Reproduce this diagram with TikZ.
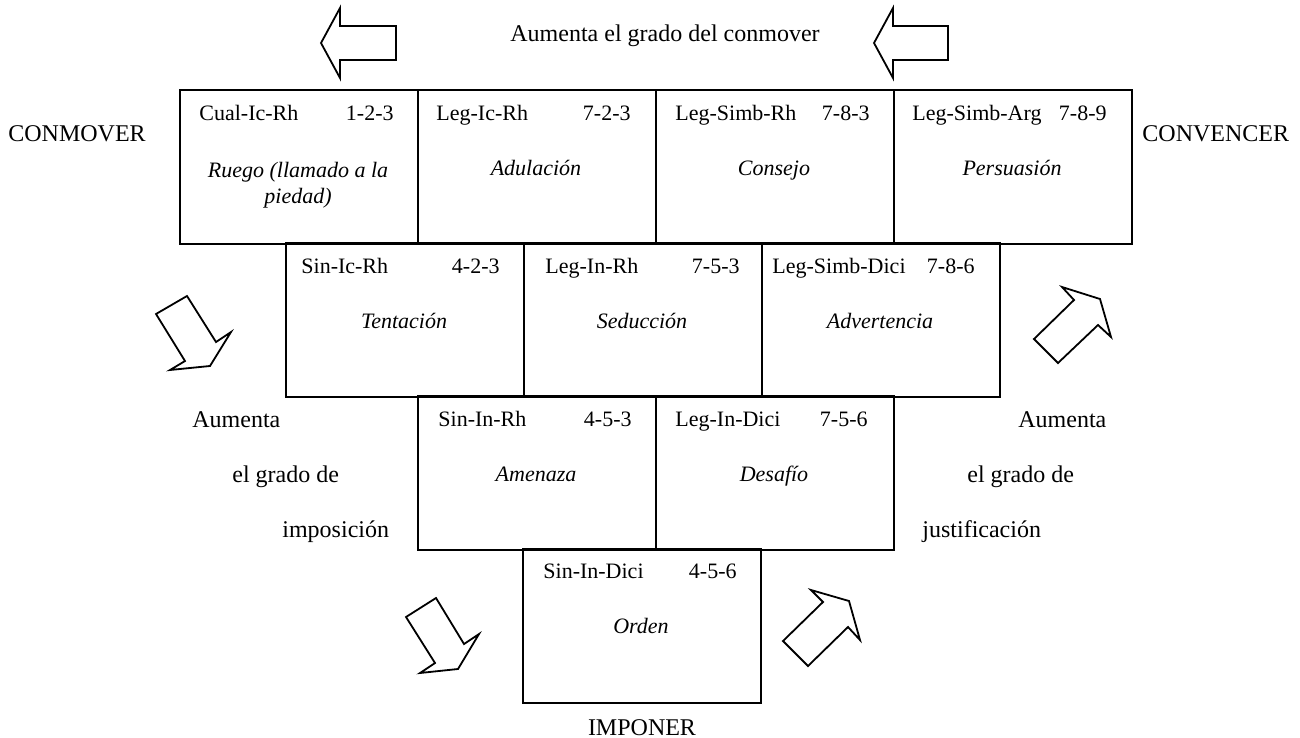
\documentclass[tikz,border=0pt]{standalone}
\usepackage{fontspec}
\setmainfont{Liberation Serif}
\begin{document}
\begin{tikzpicture}[x=0.5pt,y=-0.5pt,
  box/.style={draw, line width=1pt, minimum width=119pt, minimum height=77pt, inner sep=0pt, anchor=north west},
  lbl/.style={anchor=base west, inner sep=0pt, font=\fontsize{11}{13}\selectfont},
  num/.style={anchor=base east, inner sep=0pt, font=\fontsize{11}{13}\selectfont},
  nm/.style={anchor=base, inner sep=0pt, font=\fontsize{11}{13}\selectfont\itshape},
  outer/.style={anchor=base west, inner sep=0pt, font=\fontsize{12}{14}\selectfont},
  outerc/.style={anchor=base, inner sep=0pt, font=\fontsize{12}{14}\selectfont},
  blk/.style={draw, line width=0.9pt, line join=miter, fill=white}]
\useasboundingbox (0,0) rectangle (1300,738);

% boxes
\node[box] (b1) at (179,89) {};
\node[box] (b2) at (417,89) {};
\node[box] (b3) at (655,89) {};
\node[box] (b4) at (893,89) {};
\node[box] (b5) at (285,242) {};
\node[box] (b6) at (523,242) {};
\node[box] (b7) at (761,242) {};
\node[box] (b8) at (417,395) {};
\node[box] (b9) at (655,395) {};
\node[box] (b10) at (522,548) {};

% labels
\node[lbl] (l1) at (199,120) {Cual-Ic-Rh};
\node[num] (c1) at (394,120) {1-2-3};
\node[lbl] (l2) at (436,120) {Leg-Ic-Rh};
\node[num] (c2) at (631,120) {7-2-3};
\node[lbl] (l3) at (675,120) {Leg-Simb-Rh};
\node[num] (c3) at (870,120) {7-8-3};
\node[lbl] (l4) at (912,120) {Leg-Simb-Arg};
\node[num] (c4) at (1107,120) {7-8-9};
\node[lbl] (l5) at (301,273) {Sin-Ic-Rh};
\node[num] (c5) at (500,273) {4-2-3};
\node[lbl] (l6) at (545,273) {Leg-In-Rh};
\node[num] (c6) at (740,273) {7-5-3};
\node[lbl] (l7) at (772,273) {Leg-Simb-Dici};
\node[num] (c7) at (975,273) {7-8-6};
\node[lbl] (l8) at (438,426) {Sin-In-Rh};
\node[num] (c8) at (632,426) {4-5-3};
\node[lbl] (l9) at (675,426) {Leg-In-Dici};
\node[num] (c9) at (868,426) {7-5-6};
\node[lbl] (l10) at (543,578) {Sin-In-Dici};
\node[num] (c10) at (737,578) {4-5-6};

% names
\node[nm] (n1a) at (298,177) {Ruego (llamado a la};
\node[nm] (n1b) at (298,203) {piedad)};
\node[nm] (n2) at (536,175) {Adulación};
\node[nm] (n3) at (774,175) {Consejo};
\node[nm] (n4) at (1012,175) {Persuasión};
\node[nm] (n5) at (404,328) {Tentación};
\node[nm] (n6) at (642,328) {Seducción};
\node[nm] (n7) at (880,328) {Advertencia};
\node[nm] (n8) at (536,481) {Amenaza};
\node[nm] (n9) at (774,481) {Desafío};
\node[nm] (n10) at (641,633) {Orden};

% outer texts
\node[outerc] (top) at (665,42) {Aumenta el grado del conmover};
\node[outer] (conm) at (8,141) {CONMOVER};
\node[outer] (conv) at (1142,141) {CONVENCER};
\node[outerc] (imp) at (642,735) {IMPONER};
\node[outer] (la1) at (192,427) {Aumenta};
\node[outer] (la2) at (232,482) {el grado de};
\node[outer] (la3) at (282,537) {imposición};
\node[outer] (ra1) at (1018,427) {Aumenta};
\node[outer] (ra2) at (967,482) {el grado de};
\node[outer] (ra3) at (922,537) {justificación};

% block arrows
\draw[blk] (321,43) -- (340,8) -- (340,26) -- (396,26) -- (396,60) -- (340,60) -- (340,78) -- cycle;
\draw[blk] (874,43) -- (893,8) -- (893,26) -- (948,26) -- (948,60) -- (893,60) -- (893,78) -- cycle;
\draw[blk] (156,314) -- (187,296) -- (216,342) -- (231,332) -- (210,366) -- (170,370) -- (185,361) -- cycle;
\draw[blk] (1034,339) -- (1074,300) -- (1062,287) -- (1100,299) -- (1111,337) -- (1098,325) -- (1058,363) -- cycle;
\draw[blk] (406,617) -- (436,598) -- (464,644) -- (479,634) -- (458,669) -- (420,673) -- (435,663) -- cycle;
\draw[blk] (783,641) -- (823,602) -- (811,590) -- (849,601) -- (860,640) -- (848,627) -- (808,666) -- cycle;
\end{tikzpicture}
\end{document}
